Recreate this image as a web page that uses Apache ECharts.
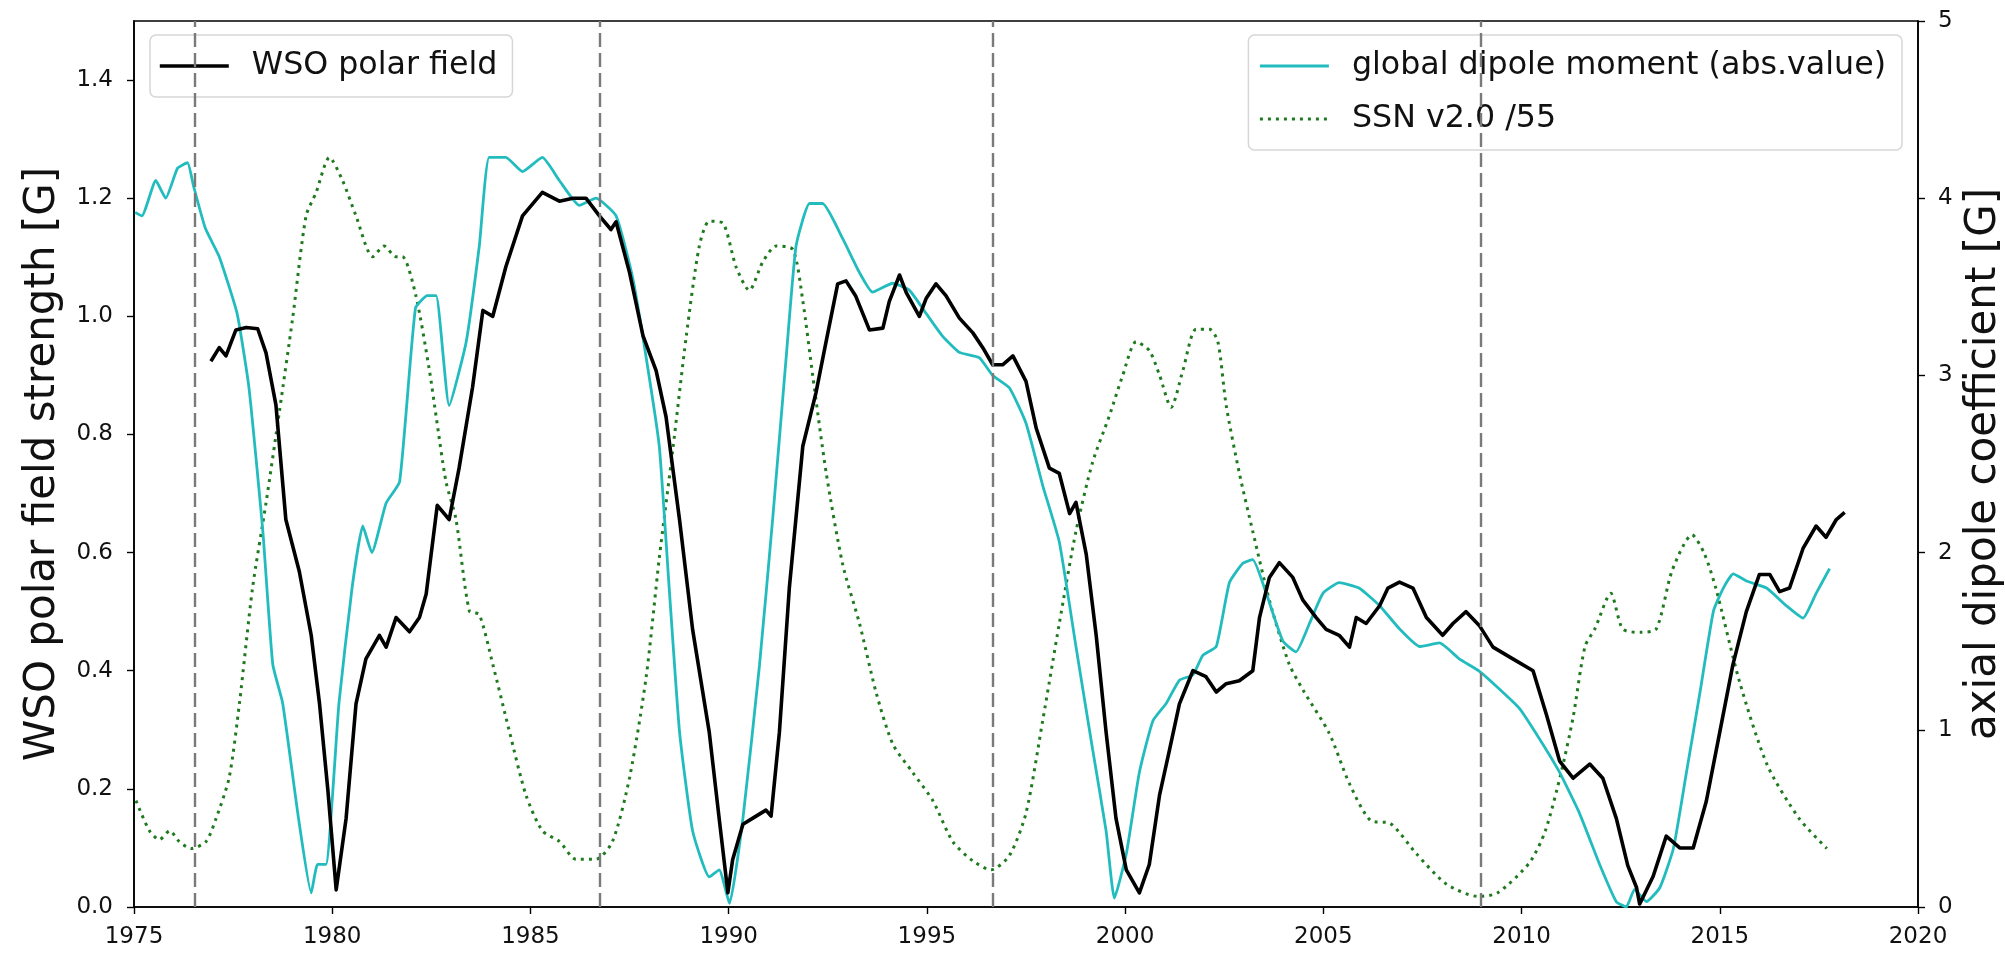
<!DOCTYPE html>
<html>
<head>
<meta charset="utf-8">
<script src="https://cdn.jsdelivr.net/npm/echarts@6/dist/echarts.min.js"></script>
<style>
  html, body { margin: 0; padding: 0; background: #ffffff; }
  #chart { width: 2005px; height: 953px; }
</style>
</head>
<body>
<div id="chart"></div>
<script>
// WSO polar field strength [G] (left axis)
const wsoYears = [1976.94,1977.15,1977.32,1977.57,1977.83,1978.12,1978.33,1978.58,1978.83,1979.17,1979.47,1979.68,1979.89,1980.10,1980.35,1980.60,1980.85,1981.19,1981.36,1981.61,1981.95,1982.20,1982.37,1982.65,1982.95,1983.20,1983.54,1983.80,1984.05,1984.38,1984.80,1985.30,1985.73,1986.07,1986.40,1986.74,1987.03,1987.16,1987.50,1987.84,1988.17,1988.42,1988.76,1989.09,1989.51,1989.76,1989.98,1990.10,1990.36,1990.60,1990.94,1991.07,1991.28,1991.53,1991.87,1992.20,1992.46,1992.75,1992.96,1993.20,1993.55,1993.89,1994.05,1994.31,1994.48,1994.81,1994.98,1995.23,1995.48,1995.82,1996.16,1996.41,1996.66,1996.91,1997.17,1997.50,1997.76,1998.09,1998.34,1998.60,1998.76,1999.02,1999.27,1999.52,1999.77,2000.03,2000.36,2000.61,2000.87,2001.12,2001.37,2001.71,2002.04,2002.30,2002.55,2002.88,2003.22,2003.39,2003.64,2003.89,2004.23,2004.48,2004.82,2005.07,2005.40,2005.66,2005.83,2006.08,2006.42,2006.63,2006.92,2007.26,2007.60,2008.01,2008.27,2008.60,2008.94,2009.28,2009.78,2010.29,2010.63,2010.96,2011.30,2011.72,2012.05,2012.39,2012.68,2012.90,2012.98,2013.32,2013.65,2013.99,2014.33,2014.66,2015.00,2015.33,2015.67,2016.00,2016.26,2016.51,2016.76,2017.10,2017.43,2017.68,2017.94,2018.15];
const wsoField = [0.924,0.947,0.933,0.977,0.981,0.979,0.938,0.850,0.656,0.568,0.460,0.344,0.198,0.029,0.150,0.344,0.420,0.460,0.440,0.490,0.466,0.490,0.530,0.680,0.656,0.743,0.880,1.010,1.000,1.084,1.170,1.210,1.195,1.200,1.200,1.170,1.147,1.160,1.074,0.967,0.908,0.830,0.656,0.470,0.296,0.150,0.024,0.080,0.140,0.150,0.164,0.154,0.296,0.540,0.780,0.870,0.958,1.055,1.060,1.035,0.977,0.980,1.025,1.070,1.040,1.000,1.030,1.055,1.035,0.997,0.972,0.947,0.918,0.918,0.933,0.890,0.810,0.743,0.734,0.666,0.685,0.597,0.460,0.296,0.150,0.063,0.024,0.072,0.190,0.266,0.344,0.400,0.390,0.364,0.378,0.383,0.400,0.490,0.558,0.583,0.558,0.520,0.490,0.470,0.460,0.440,0.490,0.480,0.510,0.540,0.550,0.540,0.490,0.460,0.480,0.500,0.476,0.440,0.420,0.400,0.325,0.247,0.218,0.242,0.218,0.150,0.070,0.033,0.005,0.052,0.120,0.100,0.100,0.179,0.296,0.410,0.500,0.563,0.563,0.534,0.540,0.607,0.645,0.626,0.656,0.668];

// Global axial dipole moment, absolute value [G] (right axis)
const dipoleYears = [1975.03,1975.20,1975.55,1975.80,1976.10,1976.35,1976.50,1976.80,1977.15,1977.60,1977.90,1978.25,1978.50,1978.75,1979.15,1979.47,1979.63,1979.84,1980.17,1980.50,1980.77,1981.00,1981.36,1981.70,1982.10,1982.40,1982.62,1982.95,1983.38,1983.71,1983.96,1984.38,1984.80,1985.30,1985.73,1986.23,1986.65,1987.16,1987.58,1987.92,1988.25,1988.50,1988.76,1989.09,1989.51,1989.76,1990.02,1990.36,1990.78,1991.11,1991.45,1991.70,1992.04,1992.37,1992.88,1993.30,1993.63,1994.14,1994.56,1994.98,1995.40,1995.82,1996.32,1996.66,1997.08,1997.50,1997.92,1998.34,1998.76,1999.18,1999.52,1999.73,2000.03,2000.36,2000.70,2001.04,2001.37,2001.71,2001.96,2002.30,2002.63,2002.97,2003.22,2003.56,2003.98,2004.31,2004.65,2004.99,2005.40,2005.90,2006.42,2006.92,2007.43,2007.93,2008.43,2008.94,2009.44,2009.95,2010.45,2010.96,2011.46,2011.97,2012.39,2012.64,2012.85,2013.15,2013.49,2013.83,2014.16,2014.50,2014.84,2015.09,2015.34,2015.67,2016.18,2016.68,2017.10,2017.43,2017.77];
const dipoleValues = [3.92,3.90,4.10,4.00,4.17,4.20,4.07,3.83,3.67,3.35,2.93,2.12,1.37,1.15,0.50,0.08,0.24,0.24,1.15,1.80,2.15,2.00,2.28,2.40,3.38,3.45,3.45,2.83,3.19,3.73,4.23,4.23,4.15,4.23,4.10,3.96,4.00,3.90,3.55,3.10,2.60,1.80,0.99,0.43,0.17,0.21,0.02,0.50,1.37,2.19,3.10,3.73,3.97,3.97,3.77,3.58,3.47,3.52,3.48,3.35,3.22,3.13,3.10,3.00,2.93,2.73,2.38,2.06,1.47,0.89,0.43,0.05,0.30,0.76,1.05,1.15,1.28,1.31,1.42,1.47,1.83,1.94,1.96,1.77,1.50,1.44,1.60,1.77,1.83,1.80,1.70,1.57,1.47,1.49,1.40,1.33,1.23,1.12,0.95,0.76,0.53,0.24,0.03,0.00,0.10,0.03,0.11,0.33,0.76,1.21,1.67,1.80,1.88,1.84,1.80,1.70,1.63,1.77,1.91];

// Sunspot number v2.0 divided by 55 (right axis)
const ssnYears = [1975.05,1975.39,1975.64,1975.90,1976.14,1976.44,1976.82,1977.07,1977.40,1977.66,1977.99,1978.33,1978.67,1979.00,1979.34,1979.59,1979.93,1980.26,1980.60,1981.02,1981.31,1981.60,1981.77,1982.11,1982.45,1982.62,1982.87,1983.12,1983.46,1983.71,1984.05,1984.47,1984.89,1985.30,1985.73,1986.15,1986.65,1987.07,1987.50,1987.92,1988.25,1988.59,1988.93,1989.26,1989.51,1989.85,1990.19,1990.52,1990.86,1991.20,1991.62,1991.87,1992.12,1992.46,1992.88,1993.30,1993.72,1994.14,1994.64,1995.15,1995.65,1996.16,1996.62,1997.08,1997.50,1997.92,1998.34,1998.76,1999.18,1999.60,1999.94,2000.28,2000.61,2000.87,2001.16,2001.46,2001.79,2002.13,2002.34,2002.55,2002.88,2003.22,2003.64,2004.14,2004.50,2005.15,2005.65,2006.18,2006.70,2007.35,2008.10,2008.90,2009.40,2010.20,2010.60,2011.00,2011.30,2011.60,2011.85,2012.25,2012.55,2013.00,2013.40,2013.80,2014.30,2014.60,2014.90,2015.50,2016.20,2017.00,2017.70];
const ssnValues = [0.60,0.43,0.38,0.43,0.37,0.33,0.37,0.50,0.73,1.15,1.80,2.28,2.80,3.32,3.90,4.03,4.23,4.10,3.90,3.67,3.73,3.67,3.67,3.45,3.03,2.77,2.40,2.19,1.67,1.65,1.37,0.99,0.63,0.43,0.37,0.27,0.27,0.37,0.73,1.30,1.97,2.58,3.22,3.73,3.87,3.86,3.61,3.48,3.64,3.73,3.71,3.42,3.00,2.45,1.93,1.60,1.21,0.92,0.76,0.60,0.37,0.26,0.21,0.29,0.53,1.05,1.60,2.12,2.51,2.77,3.00,3.19,3.14,3.00,2.82,3.03,3.26,3.26,3.19,2.83,2.45,2.12,1.73,1.37,1.22,0.98,0.70,0.49,0.47,0.30,0.13,0.06,0.08,0.25,0.43,0.76,1.07,1.47,1.57,1.77,1.57,1.55,1.57,1.90,2.10,2.00,1.80,1.27,0.80,0.50,0.33];

// Solar cycle minima, drawn as vertical dashed lines
const minimaYears = [1976.54, 1986.76, 1996.66, 2008.96];

const seriesNames = ['WSO polar field', 'global dipole moment (abs.value)', 'SSN v2.0 /55'];
const axisTitles = ['WSO polar field strength [G]', 'axial dipole coefficient [G]'];

const FONT = 'DejaVu Sans';
const COLORS = { wso: '#000000', dipole: '#22bcbf', ssn: '#1f7a1f', minima: '#7a7a7a' };
const STYLES = {
  wso: { color: COLORS.wso, width: 3.6, join: 'round' },
  dipole: { color: COLORS.dipole, width: 2.8 },
  ssn: { color: COLORS.ssn, width: 3, type: [3, 5], cap: 'butt' }
};
const pairs = (xs, ys) => xs.map((x, i) => [x, ys[i]]);

const chart = echarts.init(document.getElementById('chart'), null, { renderer: 'canvas' });

const legendBase = {
  orient: 'vertical',
  backgroundColor: 'rgba(255,255,255,0.85)',
  borderColor: '#d6d6d6',
  borderWidth: 1.5,
  borderRadius: 6,
  itemWidth: 69,
  itemHeight: 2,
  itemGap: 21,
  textStyle: { fontFamily: FONT, fontSize: 31.7, color: '#111', padding: [0, 0, 0, 18] },
  selectedMode: false
};

const axisLineStyle = { show: true, lineStyle: { color: '#000', width: 1.6 } };
const axisTickStyle = { show: true, length: 7, lineStyle: { color: '#000', width: 1.4 } };
const tickFont = { fontFamily: FONT, fontSize: 23, color: '#111' };

chart.setOption({
  animation: false,
  backgroundColor: '#ffffff',
  grid: {
    left: 134, right: 87, top: 21, bottom: 46,
    containLabel: false,
    outerBoundsMode: 'none',
    show: true, borderColor: '#000', borderWidth: 1.6, backgroundColor: 'transparent'
  },
  legend: [
    Object.assign({}, legendBase, {
      data: [seriesNames[0]],
      left: 150, top: 35,
      padding: [15, 15, 15, 8],
      lineStyle: { width: 3.6 }
    }),
    Object.assign({}, legendBase, {
      data: [seriesNames[1], seriesNames[2]],
      right: 103, top: 35,
      padding: [15, 16, 15, 10],
      lineStyle: { width: 3 }
    })
  ],
  xAxis: {
    type: 'value',
    min: 1975, max: 2020, interval: 5,
    axisLine: axisLineStyle,
    axisTick: axisTickStyle,
    axisLabel: Object.assign({ margin: 19, formatter: v => String(v) }, tickFont),
    splitLine: { show: false }
  },
  yAxis: [
    {
      type: 'value', position: 'left',
      min: 0, max: 1.5, interval: 0.2,
      name: axisTitles[0], nameLocation: 'middle', nameRotate: 90, nameGap: 70,
      nameTextStyle: { fontFamily: FONT, fontSize: 42, color: '#111' },
      axisLine: axisLineStyle,
      axisTick: axisTickStyle,
      axisLabel: Object.assign({ margin: 21, showMaxLabel: false, formatter: v => v.toFixed(1) }, tickFont),
      splitLine: { show: false }
    },
    {
      type: 'value', position: 'right',
      min: 0, max: 5, interval: 1,
      name: axisTitles[1], nameLocation: 'middle', nameRotate: 90, nameGap: 38,
      nameTextStyle: { fontFamily: FONT, fontSize: 42, color: '#111' },
      axisLine: axisLineStyle,
      axisTick: axisTickStyle,
      axisLabel: Object.assign({ margin: 20 }, tickFont),
      splitLine: { show: false }
    }
  ],
  series: [
    {
      name: seriesNames[2], type: 'line', yAxisIndex: 1,
      data: pairs(ssnYears, ssnValues),
      symbol: 'none', smooth: 0.25,
      lineStyle: STYLES.ssn,
      itemStyle: { color: COLORS.ssn },
      z: 2
    },
    {
      name: seriesNames[1], type: 'line', yAxisIndex: 1,
      data: pairs(dipoleYears, dipoleValues),
      symbol: 'none', smooth: 0.15,
      lineStyle: STYLES.dipole,
      itemStyle: { color: COLORS.dipole },
      z: 3
    },
    {
      name: seriesNames[0], type: 'line', yAxisIndex: 0,
      data: pairs(wsoYears, wsoField),
      symbol: 'none',
      lineStyle: STYLES.wso,
      itemStyle: { color: COLORS.wso },
      z: 4,
      markLine: {
        silent: true,
        symbol: ['none', 'none'],
        label: { show: false },
        lineStyle: { color: COLORS.minima, width: 2.4, type: [14, 6] },
        data: minimaYears.map(y => ({ xAxis: y }))
      }
    }
  ]
});
</script>
</body>
</html>
